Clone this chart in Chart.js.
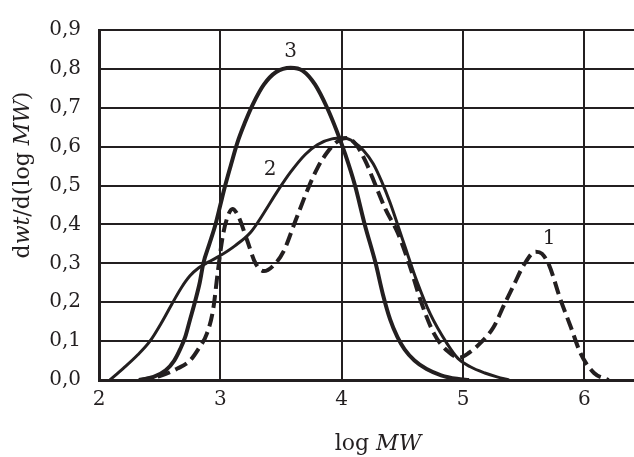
<!DOCTYPE html>
<html lang="en">
<head>
    <meta charset="UTF-8">
    <title>dwt/d(log MW)</title>
    <script src="https://cdn.jsdelivr.net/npm/chart.js"></script>
    <style>
        html, body {
            margin: 0;
            padding: 0;
            background: #fff;
            overflow: hidden;
        }
        canvas {
            display: block;
        }
    </style>
</head>
<body>
    <canvas id="mwdChart" width="645" height="457"></canvas>

    <script>
        // molecular weight distributions, log MW vs dwt/d(log MW)
        const curve1X = [2.33, 2.5, 2.65, 2.75, 2.82, 2.89, 2.94, 2.98, 3.02, 3.06, 3.10, 3.15, 3.22, 3.29, 3.36, 3.44, 3.52, 3.62, 3.72, 3.80, 3.88, 3.96, 4.04, 4.12, 4.20, 4.28, 4.36, 4.46, 4.56, 4.65, 4.76, 4.87, 4.97, 5.05, 5.14, 5.25, 5.34, 5.42, 5.50, 5.60, 5.65, 5.71, 5.80, 5.89, 5.97, 6.08, 6.20];
        const curve1Y = [0, 0.01, 0.03, 0.05, 0.08, 0.12, 0.18, 0.28, 0.37, 0.42, 0.44, 0.42, 0.36, 0.30, 0.28, 0.295, 0.33, 0.41, 0.49, 0.545, 0.585, 0.612, 0.622, 0.605, 0.56, 0.50, 0.44, 0.38, 0.295, 0.205, 0.12, 0.075, 0.058, 0.07, 0.094, 0.135, 0.194, 0.245, 0.295, 0.33, 0.325, 0.295, 0.21, 0.135, 0.068, 0.018, 0];

        const curve2X = [2.09, 2.2, 2.32, 2.42, 2.52, 2.60, 2.68, 2.75, 2.82, 2.90, 3.0, 3.12, 3.25, 3.36, 3.47, 3.58, 3.70, 3.80, 3.92, 4.02, 4.10, 4.18, 4.26, 4.33, 4.40, 4.51, 4.62, 4.73, 4.87, 4.96, 5.06, 5.18, 5.28, 5.38];
        const curve2Y = [0, 0.03, 0.065, 0.10, 0.15, 0.195, 0.238, 0.268, 0.288, 0.303, 0.32, 0.345, 0.38, 0.43, 0.485, 0.535, 0.58, 0.605, 0.62, 0.622, 0.612, 0.59, 0.556, 0.51, 0.455, 0.354, 0.254, 0.17, 0.093, 0.055, 0.034, 0.018, 0.008, 0];

        const curve3X = [2.33, 2.45, 2.55, 2.62, 2.67, 2.71, 2.75, 2.79, 2.83, 2.86, 2.91, 2.96, 3.00, 3.04, 3.09, 3.14, 3.20, 3.27, 3.36, 3.46, 3.58, 3.68, 3.78, 3.88, 3.96, 4.03, 4.11, 4.19, 4.28, 4.34, 4.40, 4.46, 4.52, 4.60, 4.70, 4.82, 4.95, 5.05];
        const curve3Y = [0, 0.008, 0.025, 0.05, 0.08, 0.11, 0.155, 0.20, 0.25, 0.30, 0.35, 0.40, 0.45, 0.50, 0.556, 0.61, 0.66, 0.71, 0.76, 0.792, 0.803, 0.795, 0.76, 0.70, 0.64, 0.58, 0.50, 0.40, 0.30, 0.22, 0.155, 0.11, 0.078, 0.05, 0.028, 0.012, 0.003, 0];

        const xTicks = [2, 3, 4, 5, 6];
        const yTicks = [0, 0.1, 0.2, 0.3, 0.4, 0.5, 0.6, 0.7, 0.8, 0.9];

        // curve numbers, placed in data coordinates
        const curveLabels = ["1", "2", "3"];
        const labelX = [5.71, 3.41, 3.58];
        const labelY = [0.363, 0.54, 0.843];

        const ink = "#231f20";
        const serif = "'DejaVu Serif', 'Liberation Serif', serif";

        const toPoints = (xs, ys) => xs.map((x, i) => ({ x: x, y: ys[i] }));

        // axis titles with italic parts, plus the curve numbers
        const annotate = {
            id: "annotate",
            afterDraw(chart) {
                const ctx = chart.ctx;
                const xs = chart.scales.x, ys = chart.scales.y;
                ctx.save();
                ctx.fillStyle = ink;

                ctx.font = "20px " + serif;
                ctx.textAlign = "center";
                ctx.textBaseline = "middle";
                curveLabels.forEach((t, i) => {
                    ctx.fillText(t, xs.getPixelForValue(labelX[i]), ys.getPixelForValue(labelY[i]));
                });

                const drawParts = (parts, x, y) => {
                    ctx.textAlign = "left";
                    ctx.textBaseline = "alphabetic";
                    let total = 0;
                    parts.forEach(p => {
                        ctx.font = (p[1] ? "italic " : "") + "22px " + serif;
                        total += ctx.measureText(p[0]).width;
                    });
                    let cx = x - total / 2;
                    parts.forEach(p => {
                        ctx.font = (p[1] ? "italic " : "") + "22px " + serif;
                        ctx.fillText(p[0], cx, y);
                        cx += ctx.measureText(p[0]).width;
                    });
                };

                drawParts([["log ", false], ["MW", true]], 378, 450);

                ctx.translate(29, 175);
                ctx.rotate(-Math.PI / 2);
                drawParts([["d", false], ["wt", true], ["/d(log ", false], ["MW", true], [")", false]], 0, 0);
                ctx.restore();
            }
        };

        const ctx = document.getElementById("mwdChart").getContext("2d");
        new Chart(ctx, {
            type: "scatter",
            data: {
                datasets: [
                    {
                        label: "1",
                        data: toPoints(curve1X, curve1Y),
                        borderColor: ink,
                        borderWidth: 4,
                        borderDash: [13, 6]
                    },
                    {
                        label: "2",
                        data: toPoints(curve2X, curve2Y),
                        borderColor: ink,
                        borderWidth: 3
                    },
                    {
                        label: "3",
                        data: toPoints(curve3X, curve3Y),
                        borderColor: ink,
                        borderWidth: 4
                    }
                ]
            },
            options: {
                responsive: false,
                animation: false,
                showLine: true,
                elements: {
                    point: { radius: 0, hoverRadius: 0 },
                    line: { cubicInterpolationMode: "monotone", fill: false }
                },
                layout: { padding: { top: 24, left: 0, right: 0, bottom: 0 } },
                plugins: {
                    legend: { display: false },
                    tooltip: { enabled: false }
                },
                scales: {
                    x: {
                        type: "linear",
                        min: 2,
                        max: 6.5,
                        afterBuildTicks: s => { s.ticks = xTicks.map(v => ({ value: v })); },
                        afterFit: s => { s.height = 77; },
                        grid: { color: ink, lineWidth: 2, drawTicks: false },
                        border: { color: ink, width: 3 },
                        ticks: {
                            color: ink,
                            padding: 8,
                            maxRotation: 0,
                            font: { family: serif, size: 20 },
                            callback: v => String(v)
                        }
                    },
                    y: {
                        min: 0,
                        max: 0.9,
                        afterBuildTicks: s => { s.ticks = yTicks.map(v => ({ value: v })); },
                        afterFit: s => { s.width = 99; },
                        grid: { color: ink, lineWidth: 2, drawTicks: false },
                        border: { color: ink, width: 3 },
                        ticks: {
                            color: ink,
                            padding: 18,
                            font: { family: serif, size: 20 },
                            callback: v => v.toFixed(1).replace(".", ",")
                        }
                    }
                }
            },
            plugins: [annotate]
        });
    </script>
</body>
</html>
